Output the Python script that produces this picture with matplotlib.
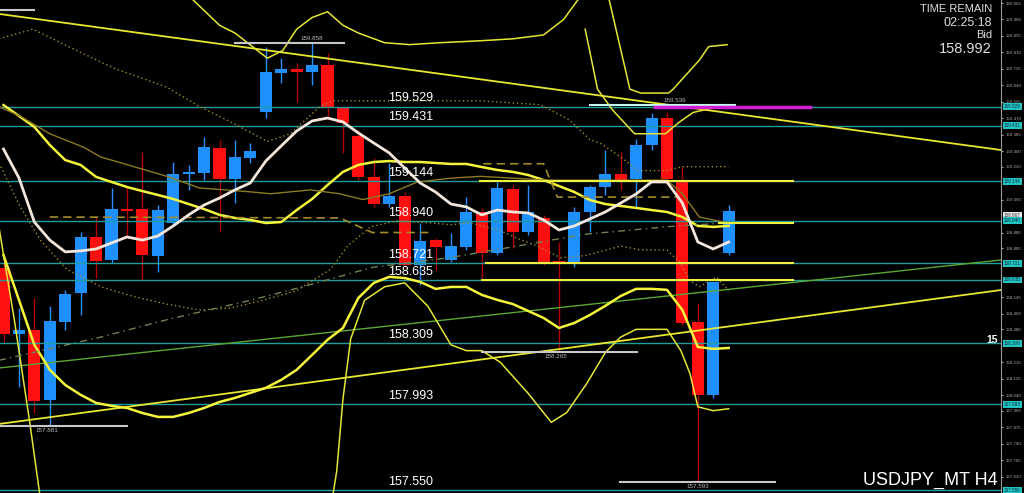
import numpy as np
import matplotlib.pyplot as plt
import matplotlib.transforms as mtransforms

plt.rcParams['font.family'] = ['Liberation Sans', 'DejaVu Sans']

# ---- candles (H4 USDJPY) ----
opens = [158.697, 158.356, 158.377, 158.016, 158.418, 158.568, 158.857, 158.738, 159.001, 159.001,
         158.759, 158.929, 159.182, 159.187, 159.316, 159.156, 159.265, 159.502, 159.704, 159.724,
         159.709, 159.745, 159.528, 159.378, 159.167, 159.027, 159.069, 158.712, 158.841, 158.738,
         158.805, 158.986, 158.774, 159.105, 158.883, 158.955, 158.733, 158.718, 158.986, 159.115,
         159.182, 159.156, 159.332, 159.471, 159.141, 158.418, 158.041, 158.774]
closes = [158.356, 158.377, 158.010, 158.423, 158.563, 158.857, 158.733, 159.001, 158.991, 158.764,
          158.996, 159.182, 159.187, 159.322, 159.156, 159.270, 159.301, 159.709, 159.724, 159.709,
          159.745, 159.528, 159.445, 159.167, 159.027, 159.069, 158.712, 158.836, 158.805, 158.810,
          158.986, 158.774, 159.110, 158.883, 158.986, 158.728, 158.718, 158.986, 159.115, 159.182,
          159.151, 159.332, 159.471, 159.156, 158.413, 158.041, 158.625, 158.992]
highs = [158.749, 158.490, 158.542, 158.501, 158.583, 158.883, 158.960, 159.110, 159.115, 159.296,
         159.022, 159.244, 159.229, 159.373, 159.358, 159.358, 159.342, 159.840, 159.781, 159.755,
         159.858, 159.807, 159.528, 159.409, 159.265, 159.239, 159.089, 158.929, 158.852, 158.878,
         159.063, 159.007, 159.141, 159.125, 159.125, 158.971, 158.831, 159.012, 159.125, 159.306,
         159.296, 159.363, 159.497, 159.500, 159.218, 158.516, 158.625, 159.022]
lows = [158.315, 158.083, 157.948, 157.881, 158.377, 158.454, 158.645, 158.723, 158.857, 158.635,
        158.676, 158.914, 159.100, 159.151, 158.883, 159.032, 159.239, 159.471, 159.652, 159.554,
        159.642, 159.477, 159.291, 159.151, 159.012, 159.012, 158.702, 158.609, 158.687, 158.728,
        158.790, 158.645, 158.764, 158.800, 158.867, 158.712, 158.265, 158.702, 158.883, 159.074,
        159.100, 159.012, 159.306, 159.151, 158.403, 157.593, 158.026, 158.764]

# ---- indicator lines sampled per bar ----
ma_white = [159.311, 159.162, 158.934, 158.841, 158.780, 158.785, 158.795, 158.826, 158.857, 158.841,
            158.862, 158.914, 158.971, 159.022, 159.058, 159.100, 159.136, 159.249, 159.327, 159.404,
            159.456, 159.471, 159.451, 159.394, 159.342, 159.291, 159.213, 159.136, 159.089, 159.027,
            159.012, 158.971, 158.996, 158.986, 158.981, 158.945, 158.893, 158.914, 158.950, 158.986,
            159.032, 159.079, 159.141, 159.141, 159.032, 158.831, 158.795, 158.831]
band_up = [159.538, 159.482, 159.425, 159.332, 159.254, 159.229, 159.167, 159.141, 159.115, 159.094,
           159.074, 159.053, 159.027, 159.001, 158.971, 158.955, 158.945, 158.929, 158.934, 158.996,
           159.053, 159.125, 159.193, 159.229, 159.244, 159.249, 159.244, 159.244, 159.239, 159.234,
           159.234, 159.218, 159.203, 159.193, 159.177, 159.151, 159.120, 159.089, 159.048, 159.027,
           159.017, 159.007, 158.996, 158.986, 158.960, 158.914, 158.909, 158.914]
band_dn = [158.764, 158.532, 158.300, 158.171, 158.093, 158.042, 158.000, 157.985, 157.974, 157.948,
           157.928, 157.928, 157.948, 157.974, 158.005, 158.026, 158.052, 158.078, 158.119, 158.171,
           158.248, 158.326, 158.387, 158.542, 158.620, 158.651, 158.645, 158.625, 158.589, 158.599,
           158.599, 158.558, 158.532, 158.511, 158.475, 158.439, 158.387, 158.413, 158.454, 158.501,
           158.552, 158.589, 158.589, 158.584, 158.480, 158.289, 158.279, 158.284]

# thin outer bands (bar index, price)
outer1_x = [11.8, 12.3, 14.0, 15.0, 17.1, 18.1, 19.0, 20.0, 21.0, 22.0, 23.0, 24.7, 26.3, 28.3, 30.9, 33.0, 35.0, 36.3, 37.4]
outer1_y = [160.13, 160.08, 159.95, 159.91, 159.78, 159.82, 159.93, 159.99, 160.02, 159.95, 159.91, 159.86, 159.85, 159.86, 159.87, 159.88, 159.90, 159.98, 160.10]
outer2_x = [37.7, 38.5, 39.5, 40.9, 42.9, 43.8, 44.7, 46.9]
outer2_y = [159.93, 159.62, 159.51, 159.39, 159.39, 159.45, 159.50, 159.54]
outer3_x = [39.2, 40.6, 41.3, 43.1, 43.4, 45.1, 45.7, 46.9]
outer3_y = [160.10, 159.62, 159.60, 159.60, 159.62, 159.77, 159.84, 159.85]
lower1_x = [-0.3, 0.7, 1.7, 2.4]
lower1_y = [158.91, 158.43, 157.90, 157.50]
lower2_x = [21.3, 21.6, 22.0, 22.5, 23.4, 24.7, 26.0, 27.5, 29.0, 30.0, 31.0, 32.2, 34.0, 35.5, 36.5, 37.8, 39.0, 40.0, 41.0, 43.0, 43.9, 44.5, 45.0, 46.0, 47.0]
lower2_y = [157.50, 157.65, 158.02, 158.33, 158.53, 158.60, 158.62, 158.50, 158.30, 158.27, 158.27, 158.21, 158.05, 157.90, 157.95, 158.10, 158.26, 158.34, 158.38, 158.38, 158.27, 158.15, 157.98, 157.96, 157.97]

# dotted / dashed envelopes (bar index, price)
dot_up_x = [-0.3, 1.9, 3.7, 7.1, 10.6, 12.7, 14.5, 17.1, 18.6, 20.5, 21.4, 22.5, 30.9, 34.8, 36.7, 38.0, 38.7, 40.0, 41.1, 43.0, 44.0, 47.0]
dot_up_y = [159.88, 159.93, 159.86, 159.73, 159.63, 159.53, 159.46, 159.35, 159.39, 159.53, 159.56, 159.56, 159.56, 159.54, 159.46, 159.36, 159.34, 159.27, 159.20, 159.20, 159.22, 159.22]
dot_dn_x = [-0.3, 1.1, 2.4, 4.1, 6.3, 8.4, 10.6, 12.7, 14.7, 16.8, 19.0, 21.2, 22.3, 23.8, 25.5, 27.6, 29.0, 30.2, 32.2, 33.3, 34.6, 36.1, 37.6, 39.1, 40.0, 41.3, 43.0, 43.9, 44.5, 45.1, 46.2, 47.0]
dot_dn_y = [159.24, 159.01, 158.84, 158.69, 158.60, 158.55, 158.51, 158.48, 158.49, 158.53, 158.58, 158.69, 158.81, 158.91, 158.94, 158.93, 158.92, 158.93, 158.89, 158.85, 158.81, 158.75, 158.76, 158.79, 158.81, 158.79, 158.79, 158.72, 158.63, 158.60, 158.65, 158.58]
dashdot_x = [-0.3, 6.3, 10.6, 16.0, 19.4, 23.9, 28.9, 33.3, 37.6, 43.0, 47.0]
dashdot_y = [158.22, 158.34, 158.43, 158.53, 158.60, 158.70, 158.75, 158.81, 158.87, 158.91, 158.93]
olive_x = [-0.3, 1.1, 3.0, 5.2, 6.3, 10.6, 12.7, 16.0, 17.3, 19.9, 21.8, 23.3, 25.0, 26.8, 28.9, 30.9, 35.4, 38.7, 43.0, 44.0, 45.1, 46.9]
olive_y = [159.53, 159.48, 159.39, 159.32, 159.27, 159.17, 159.11, 159.09, 159.08, 159.10, 159.08, 159.05, 159.08, 159.14, 159.16, 159.17, 159.15, 159.15, 159.15, 159.08, 158.96, 158.93]
dash1_x = [3.0, 21.8, 23.9, 27.6]
dash1_y = [158.96, 158.955, 158.88, 158.88]
dash2_x = [31.1, 35.0, 35.9, 43.6]
dash2_y = [159.235, 159.235, 159.063, 159.063]

# ---- horizontal levels ----
levels = [159.529, 159.431, 159.144, 158.940, 158.721, 158.635, 158.309, 157.993, 157.550]
level_labels = ['159.529', '159.431', '159.144', '158.940', '158.721', '158.635', '158.309', '157.993', '157.550']
yellow_levels = [159.146, 158.929, 158.720, 158.635]
yellow_start = [30.9, 46.4, 31.3, 31.0]
yellow_end = 51.2

# high/low markers
mark_prices = [159.858, 158.265, 157.881, 157.593, 160.030]
mark_x0 = [15.0, 31.0, -0.3, 39.95, -0.3]
mark_x1 = [22.1, 41.05, 8.0, 50.0, 2.0]
mark_text = ['159.858', '158.265', '157.881', '157.593', '']
mark_tx = [20.0, 35.8, 2.8, 45.0, 0]

# trend lines (start, end) in (bar index, price)
trend_yellow_hi = ([-0.23, 64.65], [160.008, 159.306])
trend_yellow_lo = ([-0.23, 64.65], [157.892, 158.583])
trend_green = ([-0.23, 64.65], [158.181, 158.738])

axis_ticks = [160.065, 159.980, 159.895, 159.810, 159.725, 159.640, 159.555, 159.470, 159.385, 159.300,
              159.220, 159.050, 158.880, 158.800, 158.545, 158.460,
              158.380, 158.210, 158.125, 158.040, 157.960, 157.875, 157.790, 157.705, 157.620]

bid = 158.992

# ---- figure ----
fig = plt.figure(figsize=(10.24, 4.93), dpi=100, facecolor='black')
ax = fig.add_axes([0, 0, 1001 / 1024, 1])
ax.set_facecolor('black')
ax.set_xlim(-0.227, 64.65)
ax.set_ylim(157.535, 160.0805)

idx = np.arange(len(opens))
o = np.array(opens); c = np.array(closes)
up = c >= o
blue, red = '#1e90ff', '#ff1010'
ax.vlines(idx[up], np.array(lows)[up], np.array(highs)[up], color=blue, lw=1, zorder=2)
ax.vlines(idx[~up], np.array(lows)[~up], np.array(highs)[~up], color='#b00000', lw=1, zorder=2)
body = np.maximum(np.abs(c - o), 0.012)
ax.bar(idx, body, bottom=np.minimum(o, c), width=0.78,
       color=np.where(up, blue, red), edgecolor='none', zorder=3)

# levels
for lv in levels:
    ax.axhline(lv, color='#1f9c9c', lw=1, zorder=4)
for lv, lab in zip(levels, level_labels):
    ax.text(24.9, lv + 0.012, lab, color='white', fontsize=9, ha='left', va='bottom', zorder=6)

for lv, x0 in zip(yellow_levels, yellow_start):
    ax.plot([x0, yellow_end], [lv, lv], color='#f0f040', lw=1.5, zorder=5)

# trendlines
ax.plot(*trend_yellow_hi, color='#e8e830', lw=1.3, zorder=4)
ax.plot(*trend_yellow_lo, color='#e8e830', lw=1.3, zorder=4)
ax.plot(*trend_green, color='#5aa832', lw=1, zorder=4)

# indicators
ax.plot(idx, band_up, color='#f5f53a', lw=1.8, zorder=4)
ax.plot(idx, band_dn, color='#f5f53a', lw=1.8, zorder=4)
for xs, ys in [(outer1_x, outer1_y), (outer2_x, outer2_y), (outer3_x, outer3_y),
               (lower1_x, lower1_y), (lower2_x, lower2_y)]:
    ax.plot(xs, ys, color='#e6e636', lw=1.1, zorder=4)
ax.plot(dot_up_x, dot_up_y, color='#a08c2a', lw=1, ls=(0, (1, 2)), zorder=4)
ax.plot(dot_dn_x, dot_dn_y, color='#a08c2a', lw=1, ls=(0, (1, 2)), zorder=4)
ax.plot(dashdot_x, dashdot_y, color='#6e8450', lw=1, ls=(0, (5, 3, 1, 3)), zorder=4)
ax.plot(olive_x, olive_y, color='#8c7a20', lw=1, zorder=4)
ax.plot(dash1_x, dash1_y, color='#a08c2a', lw=1.2, ls=(0, (5, 3)), zorder=4)
ax.plot(dash2_x, dash2_y, color='#a08c2a', lw=1.2, ls=(0, (5, 3)), zorder=4)
ax.plot(idx, ma_white, color='#f4e6da', lw=2, zorder=5)

# marker lines
for p, x0, x1, t, tx in zip(mark_prices, mark_x0, mark_x1, mark_text, mark_tx):
    ax.plot([x0, x1], [p, p], color='#c8c8c8', lw=1.5, zorder=5)
    if t:
        above = p > 159.5
        ax.text(tx, p + (0.012 if above else -0.012), t, color='#bbbbbb', fontsize=4.5,
                ha='center', va='bottom' if above else 'top', zorder=6)
ax.plot([38.0, 47.4], [159.536, 159.536], color='#c8f4f4', lw=1.5, zorder=5)
ax.text(43.5, 159.548, '159.536', color='#bbbbbb', fontsize=4.5, ha='center', va='bottom', zorder=6)
ax.plot([42.2, 52.3], [159.526, 159.526], color='#d21ed2', lw=2.5, zorder=6)

# right price axis
ax.yaxis.tick_right()
ax.set_yticks(axis_ticks)
ax.set_yticklabels([f'{t:.3f}' for t in axis_ticks])
ax.tick_params(axis='y', colors='#aaaaaa', labelsize=3.2, length=1.5, pad=1.5)
ax.set_xticks([])
for s in ['top', 'left', 'bottom']:
    ax.spines[s].set_visible(False)
ax.spines['right'].set_color('#999999')

trans = mtransforms.blended_transform_factory(ax.transAxes, ax.transData)
for lv, lab in zip(levels, level_labels):
    ax.text(1.003, lv, lab, transform=trans, fontsize=3.3, color='#06303a', ha='left', va='center',
            bbox=dict(boxstyle='square,pad=0.2', fc='#22c4c4', ec='none'), zorder=7, clip_on=False)
ax.text(1.003, bid - 0.025, '158.967', transform=trans, fontsize=3.3, color='#333333', ha='left',
        va='center', bbox=dict(boxstyle='square,pad=0.2', fc='#e8e8e8', ec='none'), clip_on=False)

# texts
ax.text(0.991, 0.992, 'TIME REMAIN', transform=ax.transAxes, color='#dddddd', fontsize=8, ha='right', va='top')
ax.text(0.991, 0.966, '02:25:18', transform=ax.transAxes, color='#dddddd', fontsize=9, ha='right', va='top')
ax.text(0.991, 0.94, 'Bid', transform=ax.transAxes, color='#dddddd', fontsize=8, ha='right', va='top')
ax.text(0.991, 0.915, '158.992', transform=ax.transAxes, color='#dddddd', fontsize=10.5, ha='right', va='top')
ax.text(0.997, 157.993 + 0.33, '15', transform=trans, color='white', fontsize=7.5, fontweight='bold',
        ha='right', va='center')
ax.text(0.997, 0.008, 'USDJPY_MT H4', transform=ax.transAxes, color='white', fontsize=13, ha='right',
        va='bottom')

fig.savefig('out.png', dpi=100, facecolor='black')
